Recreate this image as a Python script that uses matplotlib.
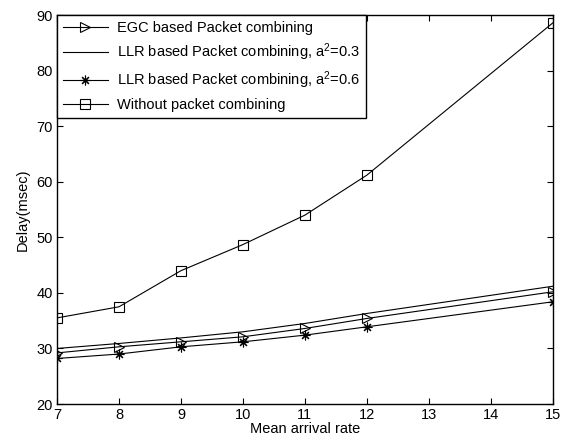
import matplotlib
matplotlib.use('Agg')
import matplotlib.pyplot as plt

plt.rcParams['font.family'] = ['Liberation Sans', 'DejaVu Sans']
plt.rcParams['mathtext.fontset'] = 'custom'
plt.rcParams['mathtext.rm'] = 'Liberation Sans'

## data
rate = [7, 8, 9, 10, 11, 12, 15]
egc = [29.2, 30.3, 31.2, 32.1, 33.6, 35.4, 40.2]
llr_03 = [30.0, 30.9, 31.9, 33.0, 34.5, 36.3, 41.2]
llr_06 = [28.2, 29.0, 30.3, 31.2, 32.4, 33.9, 38.4]
no_comb = [35.5, 37.5, 44.0, 48.7, 54.0, 61.2, 88.6]

labels = [
	'EGC based Packet combining',
	'LLR based Packet combining, $\\mathregular{a^2}$=0.3',
	'LLR based Packet combining, $\\mathregular{a^2}$=0.6',
	'Without packet combining',
]

fs = 10.5
fig = plt.figure(figsize=(5.67, 4.44), dpi=100)
ax = fig.add_axes([0.1005, 0.090, 0.8745, 0.876])

lw = 0.8
mk = dict(ms=7, mfc='none', mec='k', mew=0.8)
ax.plot(rate, egc, color='k', lw=lw, marker='>', label=labels[0], **mk)
ax.plot(rate, llr_03, color='k', lw=lw, label=labels[1])
ax.plot(rate, llr_06, color='k', lw=lw, marker=(8, 2, 0), label=labels[2], **mk)
ax.plot(rate, no_comb, color='k', lw=lw, marker='s', label=labels[3], **mk)

ax.set_xlim(7, 15)
ax.set_ylim(20, 90)
ax.set_xticks(range(7, 16))
ax.set_yticks(range(20, 91, 10))
ax.tick_params(direction='in', top=True, right=True, length=4, labelsize=fs, width=0.8, pad=3)
for s in ax.spines.values():
	s.set_linewidth(1.0)

ax.set_xlabel('Mean arrival rate', fontsize=fs, labelpad=0)
ax.set_ylabel('Delay(msec)', fontsize=fs, labelpad=5)

leg = ax.legend(loc='upper left', fontsize=fs, fancybox=False, framealpha=1, edgecolor='k',
				borderaxespad=0, handlelength=3.1, labelspacing=0.45, borderpad=0.4, handletextpad=0.6)
leg.get_frame().set_linewidth(1.0)

fig.savefig('out.png', dpi=100)
